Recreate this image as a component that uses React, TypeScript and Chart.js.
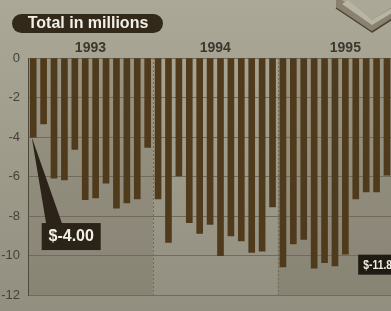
import React, { useEffect, useRef } from "react";
import { Chart, registerables } from "chart.js";

Chart.register(...registerables);

const years = ["1993", "1994", "1995"];
const values1993 = [-4.0, -3.33, -6.08, -6.17, -4.63, -7.17, -7.08, -6.33, -7.6, -7.33, -7.13, -4.53];
const values1994 = [-7.13, -9.33, -5.97, -8.33, -8.88, -8.42, -10.0, -9.0, -9.25, -9.83, -9.77, -7.53];
const values1995 = [-10.57, -9.4, -9.18, -10.63, -10.35, -10.52, -9.93, -7.13, -6.77, -6.77, -5.93, -6.35, -10.3];
const yTicks = [0, -2, -4, -6, -8, -10, -12];
const titleText = "Total in millions";
const firstCallout = "$-4.00";
const lastCallout = "$-11.8";

const groups = [values1993, values1994, values1995];
const values = groups.flat();
const labels = groups.flatMap((g, gi) => g.map((_, i) => `${years[gi]}-${i + 1}`));

const FONT = '"Liberation Sans", Arial, Helvetica, sans-serif';

const decorPlugin = {
  id: "decor",
  beforeDraw(chart: any) {
    const { ctx, width, height, chartArea, scales } = chart;
    const x = scales.x;
    ctx.save();
    const g = ctx.createLinearGradient(0, 0, 0, height);
    g.addColorStop(0, "#aba897");
    g.addColorStop(1, "#938f80");
    ctx.fillStyle = g;
    ctx.fillRect(0, 0, width, height);
    let start = 0;
    const bounds: number[] = [chartArea.left];
    groups.forEach((grp, gi) => {
      const end = start + grp.length - 1;
      if (gi < groups.length - 1) {
        bounds.push((x.getPixelForValue(end) + x.getPixelForValue(end + 1)) / 2);
      }
      start = end + 1;
    });
    bounds.push(chartArea.right);
    ctx.fillStyle = "rgba(45,38,20,0.11)";
    for (let gi = 0; gi < groups.length; gi += 2) {
      ctx.fillRect(bounds[gi], chartArea.top, bounds[gi + 1] - bounds[gi], chartArea.bottom - chartArea.top);
    }
    ctx.restore();
  },
  beforeDatasetsDraw(chart: any) {
    const { ctx, chartArea, scales } = chart;
    const x = scales.x;
    ctx.save();
    ctx.strokeStyle = "#6f6b5d";
    ctx.lineWidth = 1;
    ctx.setLineDash([2, 2]);
    let start = 0;
    groups.forEach((grp, gi) => {
      const end = start + grp.length - 1;
      if (gi < groups.length - 1) {
        const bx = Math.round((x.getPixelForValue(end) + x.getPixelForValue(end + 1)) / 2) + 0.5;
        ctx.beginPath();
        ctx.moveTo(bx, chartArea.top);
        ctx.lineTo(bx, chartArea.bottom);
        ctx.stroke();
      }
      start = end + 1;
    });
    ctx.restore();
  },
  afterDraw(chart: any) {
    const { ctx, chartArea, scales } = chart;
    const x = scales.x;
    const y = scales.y;
    ctx.save();

    // title pill
    ctx.fillStyle = "#33291a";
    ctx.beginPath();
    (ctx as any).roundRect(12, 14, 151, 19, 9.5);
    ctx.fill();
    ctx.fillStyle = "#f2efe6";
    ctx.font = `bold 16px ${FONT}`;
    ctx.textAlign = "center";
    ctx.textBaseline = "middle";
    ctx.fillText(titleText, 88, 24);

    // year labels
    ctx.fillStyle = "#3d382e";
    ctx.font = `bold 14px ${FONT}`;
    let start = 0;
    groups.forEach((grp, gi) => {
      const end = start + grp.length - 1;
      const cx = (x.getPixelForValue(start) + x.getPixelForValue(end)) / 2;
      ctx.fillText(years[gi], cx, chartArea.top - 10);
      start = end + 1;
    });

    // first callout
    const bx0 = x.getPixelForValue(0);
    const by0 = y.getPixelForValue(values[0]);
    const boxL = bx0 + 8.5;
    const boxT = by0 + 86;
    ctx.fillStyle = "#2b2317";
    ctx.beginPath();
    ctx.moveTo(bx0 - 1.5, by0);
    ctx.lineTo(bx0 + 13, boxT + 1);
    ctx.lineTo(bx0 + 29, boxT + 1);
    ctx.closePath();
    ctx.fill();
    ctx.fillRect(boxL, boxT, 59, 27);
    ctx.fillStyle = "#f2efe6";
    ctx.font = `bold 16px ${FONT}`;
    ctx.fillText(firstCallout, boxL + 29.5, boxT + 14);

    // last callout
    const lx = x.getPixelForValue(values1993.length + values1994.length + 8) - 8;
    const ly = y.getPixelForValue(-10) - 1;
    ctx.fillStyle = "#1f1a12";
    ctx.fillRect(lx, ly, 60, 20);
    ctx.save();
    ctx.translate(lx + 5, ly + 10.5);
    ctx.scale(0.8, 1);
    ctx.fillStyle = "#f2efe6";
    ctx.font = `bold 13px ${FONT}`;
    ctx.textAlign = "left";
    ctx.fillText(lastCallout, 0, 0);
    ctx.restore();

    // top-right ornament (chevron ribbon)
    ctx.lineJoin = "round";
    ctx.fillStyle = "#8a8170";
    ctx.beginPath();
    ctx.moveTo(336, 8);
    ctx.lineTo(372, 32);
    ctx.lineTo(400, 14);
    ctx.lineTo(400, 2);
    ctx.lineTo(372, 20);
    ctx.lineTo(342, 0);
    ctx.lineTo(336, 0);
    ctx.closePath();
    ctx.fill();
    ctx.fillStyle = "#b9b5a4";
    ctx.beginPath();
    ctx.moveTo(342, 4);
    ctx.lineTo(372, 25);
    ctx.lineTo(400, 8);
    ctx.lineTo(400, 3);
    ctx.lineTo(372, 20);
    ctx.lineTo(348, 0);
    ctx.closePath();
    ctx.fill();
    ctx.strokeStyle = "#4d4332";
    ctx.lineWidth = 1.5;
    ctx.beginPath();
    ctx.moveTo(336, 8);
    ctx.lineTo(372, 32);
    ctx.lineTo(400, 14);
    ctx.stroke();

    ctx.restore();
  },
};

export default function App() {
  const ref = useRef<HTMLCanvasElement | null>(null);
  useEffect(() => {
    document.body.style.margin = "0";
    document.body.style.background = "#a09d8e";
    const canvas = ref.current;
    if (!canvas) return;
    const chart = new Chart(canvas, {
      type: "bar",
      data: {
        labels,
        datasets: [
          {
            data: values,
            backgroundColor: "#503a1c",
            borderWidth: 0,
            barThickness: 6,
          },
        ],
      },
      options: {
        responsive: false,
        animation: false,
        devicePixelRatio: 1,
        layout: { padding: { top: 58, bottom: 13, left: 0, right: 0 } },
        plugins: {
          legend: { display: false },
          tooltip: { enabled: false },
          title: { display: false },
        },
        scales: {
          x: { display: false, offset: true },
          y: {
            min: -12,
            max: 0,
            afterBuildTicks: (s: any) => {
              s.ticks = yTicks.map((v) => ({ value: v }));
            },
            afterFit: (s: any) => {
              s.width = 28;
            },
            ticks: {
              padding: 8,
              color: "#45413a",
              font: { family: FONT, size: 13 },
              callback: (v: any) => String(v),
            },
            grid: { color: "#6f6c5e", lineWidth: 1, drawTicks: false },
            border: { display: true, color: "#4f4a3c", width: 1 },
          },
        },
      },
      plugins: [decorPlugin],
    } as any);
    return () => chart.destroy();
  }, []);
  return (
    <div style={{ width: 391, height: 311, overflow: "hidden", position: "relative" }}>
      <canvas ref={ref} width={413} height={311} style={{ display: "block" }} />
    </div>
  );
}
